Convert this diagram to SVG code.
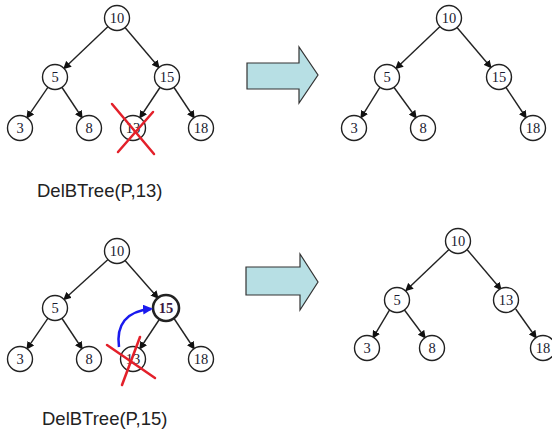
<svg xmlns="http://www.w3.org/2000/svg" width="552" height="436" viewBox="0 0 552 436">
<defs>
<style>
.nd circle{fill:#fff;stroke:#222;stroke-width:1.4}
.nd text{font-family:"Liberation Serif",serif;font-size:14.5px;fill:#1a1a30;text-anchor:middle}
.ed line{stroke:#222;stroke-width:1.4;marker-end:url(#ah)}
.blk{fill:#b7dfe4;stroke:#333;stroke-width:1.2}
.x{stroke:#e3202a;stroke-width:2.5;stroke-linecap:round}
.lbl{font-family:"Liberation Sans",Arial,sans-serif;font-size:18.5px;fill:#222}
</style>
<marker id="ah" viewBox="0 0 10 10" refX="9" refY="5" markerWidth="8" markerHeight="8" orient="auto" markerUnits="userSpaceOnUse"><path d="M0,0 L10,5 L0,10 z" fill="#111"/></marker>
<marker id="bh" viewBox="0 0 10 10" refX="8" refY="5" markerWidth="10" markerHeight="10" orient="auto" markerUnits="userSpaceOnUse"><path d="M0,0 L10,5 L0,10 z" fill="#1a1aee"/></marker>
</defs>

<!-- Tree 1: top-left -->
<g id="tree1">
<g class="ed" id="edges1">
<line x1="108.3" y1="26.3" x2="63.7" y2="68.7"/>
<line x1="124.8" y1="27.2" x2="159.2" y2="67.8"/>
<line x1="48.2" y1="86.9" x2="26.8" y2="118.1"/>
<line x1="61.7" y1="87" x2="82.3" y2="118"/>
<line x1="160.3" y1="87" x2="139.7" y2="118"/>
<line x1="173.7" y1="87" x2="194.3" y2="118"/>
</g>
<g class="nd" id="t1n10"><circle cx="117" cy="18" r="12.5"/><text x="117" y="23">10</text></g>
<g class="nd" id="t1n5"><circle cx="55" cy="77" r="12.5"/><text x="55" y="82">5</text></g>
<g class="nd" id="t1n15"><circle cx="167" cy="77" r="12.5"/><text x="167" y="82">15</text></g>
<g class="nd" id="t1n3"><circle cx="20" cy="128" r="12.5"/><text x="20" y="133">3</text></g>
<g class="nd" id="t1n8"><circle cx="89" cy="128" r="12.5"/><text x="89" y="133">8</text></g>
<g class="nd" id="t1n13"><circle cx="133" cy="128" r="12.5"/><text x="133" y="133">13</text></g>
<g class="nd" id="t1n18"><circle cx="201" cy="128" r="12.5"/><text x="201" y="133">18</text></g>
<g id="x1"><line class="x" x1="112" y1="104" x2="154" y2="154"/><line class="x" x1="153" y1="112" x2="118" y2="152"/></g>
</g>

<!-- Tree 2: top-right -->
<g id="tree2" transform="translate(332,0)">
<g class="ed" id="edges2">
<line x1="108.3" y1="26.3" x2="63.7" y2="68.7"/>
<line x1="124.8" y1="27.2" x2="159.2" y2="67.8"/>
<line x1="48.2" y1="86.9" x2="28.8" y2="118.1"/>
<line x1="61.7" y1="87" x2="84.3" y2="118"/>
<line x1="173.7" y1="87" x2="194.3" y2="118"/>
</g>
<g class="nd" id="t2n10"><circle cx="117" cy="18" r="12.5"/><text x="117" y="23">10</text></g>
<g class="nd" id="t2n5"><circle cx="55" cy="77" r="12.5"/><text x="55" y="82">5</text></g>
<g class="nd" id="t2n15"><circle cx="167" cy="77" r="12.5"/><text x="167" y="82">15</text></g>
<g class="nd" id="t2n3"><circle cx="22" cy="128" r="12.5"/><text x="22" y="133">3</text></g>
<g class="nd" id="t2n8"><circle cx="91" cy="128" r="12.5"/><text x="91" y="133">8</text></g>
<g class="nd" id="t2n18"><circle cx="201" cy="128" r="12.5"/><text x="201" y="133">18</text></g>
</g>

<!-- Tree 3: bottom-left -->
<g id="tree3" transform="translate(0,231)">
<g class="ed" id="edges3">
<line x1="108.3" y1="28.3" x2="63.7" y2="68.7"/>
<line x1="124.8" y1="29.2" x2="158.2" y2="67.3"/>
<line x1="48.2" y1="86.9" x2="26.8" y2="118.1"/>
<line x1="61.7" y1="87" x2="82.3" y2="118"/>
<line x1="160.3" y1="87" x2="139.7" y2="118"/>
<line x1="173.7" y1="87" x2="194.3" y2="118"/>
</g>
<g class="nd" id="t3n10"><circle cx="117" cy="20" r="12.5"/><text x="117" y="25">10</text></g>
<g class="nd" id="t3n5"><circle cx="55" cy="77" r="12.5"/><text x="55" y="82">5</text></g>
<g class="nd" id="t3n15"><circle cx="166" cy="77" r="13" style="stroke-width:2.6"/><text x="166" y="82" style="fill:#3a1840;font-weight:bold">15</text></g>
<g class="nd" id="t3n3"><circle cx="20" cy="128" r="12.5"/><text x="20" y="133">3</text></g>
<g class="nd" id="t3n8"><circle cx="89" cy="128" r="12.5"/><text x="89" y="133">8</text></g>
<g class="nd" id="t3n13"><circle cx="133" cy="128" r="12.5"/><text x="133" y="133">13</text></g>
<g class="nd" id="t3n18"><circle cx="201" cy="128" r="12.5"/><text x="201" y="133">18</text></g>
<g id="x3"><line class="x" x1="107" y1="114" x2="155" y2="147"/><line class="x" x1="140" y1="106" x2="122" y2="154"/></g>
<path id="move" d="M119,116 C116,94 126,80 151,78" fill="none" stroke="#1a1aee" stroke-width="2.5" marker-end="url(#bh)"/>
</g>

<!-- Tree 4: bottom-right -->
<g id="tree4" transform="translate(342,222)">
<g class="ed" id="edges4">
<line x1="108.3" y1="26.3" x2="63.7" y2="68.7"/>
<line x1="124.8" y1="27.2" x2="159.2" y2="67.8"/>
<line x1="48.2" y1="86.9" x2="30.8" y2="116.1"/>
<line x1="61.7" y1="87" x2="83.3" y2="116"/>
<line x1="173.7" y1="87" x2="194.3" y2="116"/>
</g>
<g class="nd" id="t4n10"><circle cx="116" cy="19" r="12.5"/><text x="116" y="24">10</text></g>
<g class="nd" id="t4n5"><circle cx="55" cy="78" r="12.5"/><text x="55" y="83">5</text></g>
<g class="nd" id="t4n13"><circle cx="164" cy="78" r="12.5"/><text x="164" y="83">13</text></g>
<g class="nd" id="t4n3"><circle cx="25" cy="126" r="12.5"/><text x="25" y="131">3</text></g>
<g class="nd" id="t4n8"><circle cx="90" cy="126" r="12.5"/><text x="90" y="131">8</text></g>
<g class="nd" id="t4n18"><circle cx="201" cy="126" r="12.5"/><text x="201" y="131">18</text></g>
</g>

<!-- Block arrows -->
<polygon id="arrow1" class="blk" points="247,63 299,63 299,47 318,75 299,103 299,89 247,89"/>
<polygon id="arrow2" class="blk" points="246,267 300,267 300,254 318,282 300,310 300,295 246,295"/>

<!-- Labels -->
<text class="lbl" x="37" y="197">DelBTree(P,13)</text>
<text class="lbl" x="42" y="425">DelBTree(P,15)</text>
</svg>
